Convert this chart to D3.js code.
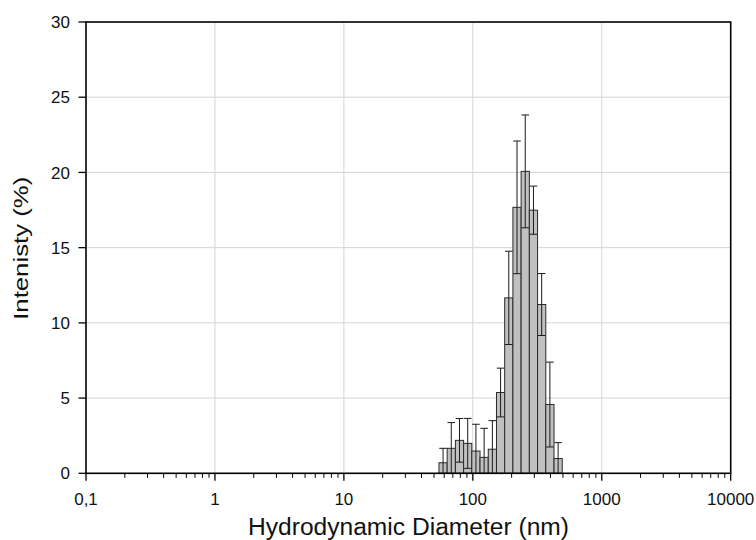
<!DOCTYPE html>
<html><head><meta charset="utf-8">
<script src="https://cdn.jsdelivr.net/npm/d3@7"></script>
<style>html,body{margin:0;padding:0;background:#fff;}svg{display:block;}</style>
</head><body>
<script>
// Data
const sizes = [58.77, 68.06, 78.82, 91.28, 105.7, 122.4, 141.8, 164.2, 190.1, 220.2, 255.0, 295.3, 342.0, 396.1, 458.7];
const intensity = [0.70, 1.66, 2.19, 1.99, 1.48, 1.06, 1.60, 5.37, 11.66, 17.68, 20.07, 17.49, 11.22, 4.57, 0.98];
const errors = [0.96, 1.71, 1.45, 1.66, 1.78, 1.93, 1.90, 1.62, 3.10, 4.41, 3.75, 1.60, 2.06, 2.82, 1.06];
const xTicks = [0.1, 1, 10, 100, 1000, 10000];
const xTickLabels = ["0,1", "1", "10", "100", "1000", "10000"];
const yTicks = [0, 5, 10, 15, 20, 25, 30];
const xTitle = "Hydrodynamic Diameter (nm)";
const yTitle = "Intenisty (%)";

const W = 756, H = 540;
const m = {left: 86, top: 22, right: 25.3, bottom: 66.7};
const iw = W - m.left - m.right, ih = H - m.top - m.bottom;

const svg = d3.select("body").append("svg").attr("width", W).attr("height", H)
  .style("font-family", "'Liberation Sans', Arial, sans-serif");
const g = svg.append("g").attr("transform", `translate(${m.left},${m.top})`);

const x = d3.scaleLog().domain([0.1, 10000]).range([0, iw]);
const y = d3.scaleLinear().domain([0, 30]).range([ih, 0]);

// gridlines
g.append("g").selectAll("line").data(xTicks.slice(1, -1)).join("line")
  .attr("x1", d => x(d)).attr("x2", d => x(d)).attr("y1", 0).attr("y2", ih)
  .attr("stroke", "#d4d4d4").attr("stroke-width", 1);
g.append("g").selectAll("line").data(yTicks.slice(1, -1)).join("line")
  .attr("x1", 0).attr("x2", iw).attr("y1", d => y(d)).attr("y2", d => y(d))
  .attr("stroke", "#d4d4d4").attr("stroke-width", 1);

// bars
const ratio = Math.sqrt(sizes[sizes.length - 1] / sizes[0]) ** (1 / (sizes.length - 1));
const data = sizes.map((s, i) => ({s, v: intensity[i], e: errors[i]}));
g.append("g").selectAll("rect").data(data).join("rect")
  .attr("x", d => x(d.s / ratio))
  .attr("width", d => x(d.s * ratio) - x(d.s / ratio))
  .attr("y", d => y(d.v))
  .attr("height", d => y(0) - y(d.v))
  .attr("fill", "#c0c0c0").attr("stroke", "#2a2a2a").attr("stroke-width", 1);

// error bars
const eb = g.append("g").attr("stroke", "#1a1a1a").attr("stroke-width", 1);
const capW = 3.8;
data.forEach(d => {
  const cx = x(d.s);
  const lo = Math.max(0, d.v - d.e), hi = d.v + d.e;
  eb.append("line").attr("x1", cx).attr("x2", cx).attr("y1", y(lo)).attr("y2", y(hi));
  eb.append("line").attr("x1", cx - capW).attr("x2", cx + capW).attr("y1", y(hi)).attr("y2", y(hi));
  if (d.v - d.e > 0)
    eb.append("line").attr("x1", cx - capW).attr("x2", cx + capW).attr("y1", y(lo)).attr("y2", y(lo));
});

// x axis minor + major ticks
const minor = [];
for (let dec = 0.1; dec < 10000; dec *= 10) for (let k = 2; k <= 9; k++) minor.push(dec * k);
g.append("g").selectAll("line").data(minor).join("line")
  .attr("x1", d => x(d)).attr("x2", d => x(d)).attr("y1", ih).attr("y2", ih + 4.5)
  .attr("stroke", "#000").attr("stroke-width", 1);
g.append("g").selectAll("line").data(xTicks).join("line")
  .attr("x1", d => x(d)).attr("x2", d => x(d)).attr("y1", ih).attr("y2", ih + 7.5)
  .attr("stroke", "#000").attr("stroke-width", 1.3);
g.append("g").selectAll("text").data(xTicks).join("text")
  .attr("x", d => x(d)).attr("y", ih + 32).attr("text-anchor", "middle")
  .attr("font-size", 17).attr("fill", "#111").text((d, i) => xTickLabels[i]);

// y axis ticks
g.append("g").selectAll("line").data(yTicks).join("line")
  .attr("x1", -7.5).attr("x2", 0).attr("y1", d => y(d)).attr("y2", d => y(d))
  .attr("stroke", "#000").attr("stroke-width", 1.3);
g.append("g").selectAll("text").data(yTicks).join("text")
  .attr("x", -16).attr("y", d => y(d)).attr("dy", "0.36em").attr("text-anchor", "end")
  .attr("font-size", 17).attr("fill", "#111").text(d => d);

// frame
g.append("rect").attr("x", 0).attr("y", 0).attr("width", iw).attr("height", ih)
  .attr("fill", "none").attr("stroke", "#000").attr("stroke-width", 1.6);

// titles
svg.append("text").attr("x", 408.5).attr("y", 535).attr("text-anchor", "middle")
  .attr("font-size", 23).attr("fill", "#111")
  .attr("textLength", 321).attr("lengthAdjust", "spacingAndGlyphs").text(xTitle);
svg.append("text").attr("transform", `translate(28,248.3) rotate(-90)`)
  .attr("text-anchor", "middle").attr("font-size", 21).attr("fill", "#111")
  .attr("textLength", 143).attr("lengthAdjust", "spacingAndGlyphs").text(yTitle);
</script>
</body></html>
